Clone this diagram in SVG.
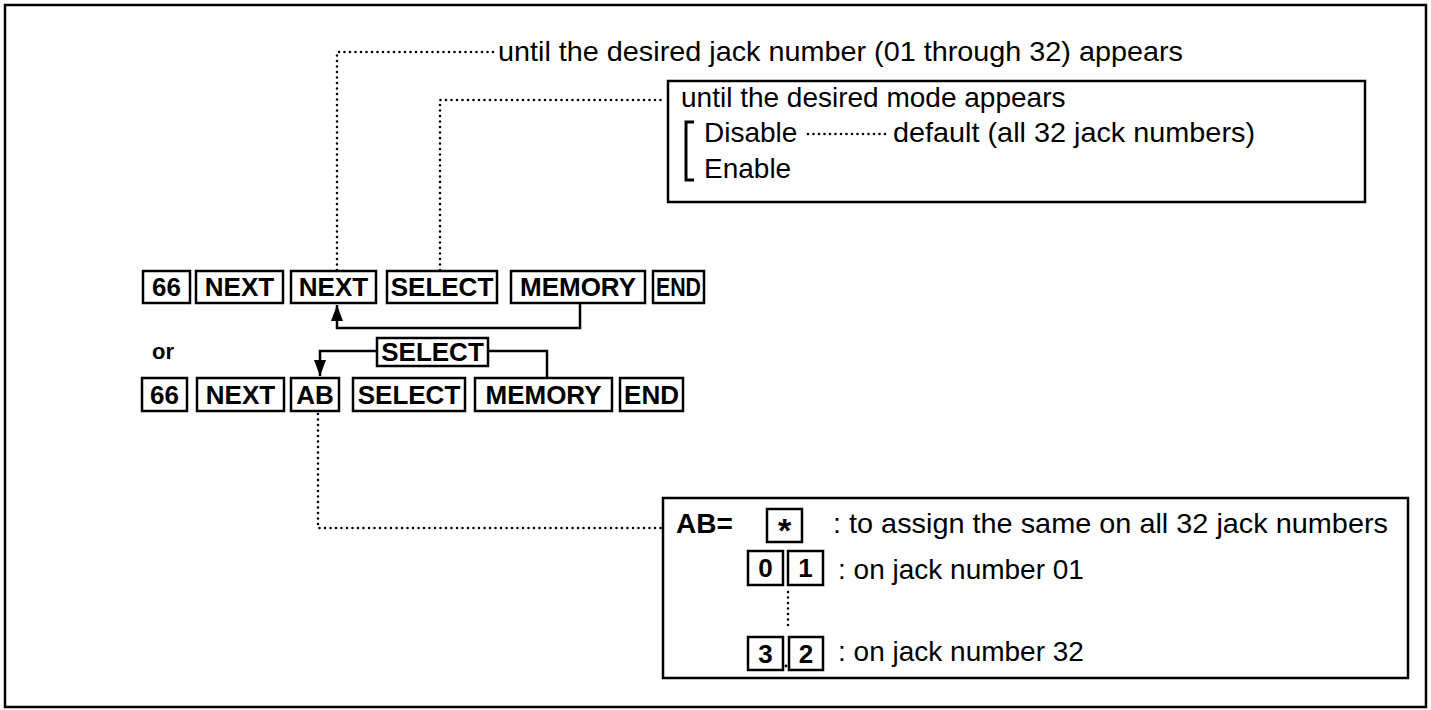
<svg xmlns="http://www.w3.org/2000/svg" width="1431" height="710" viewBox="0 0 1431 710">
<style>
.frame{fill:none;stroke:#000;stroke-width:2.5}
.key{fill:#fff;stroke:#000;stroke-width:2.5}
.kt{font-family:"Liberation Sans",Arial,sans-serif;font-weight:bold;font-size:26px;text-anchor:middle;fill:#000}
.t{font-family:"Liberation Sans",Arial,sans-serif;font-size:28px;fill:#000}
.tb{font-family:"Liberation Sans",Arial,sans-serif;font-weight:bold;font-size:28px;fill:#000}
.dot{fill:none;stroke:#000;stroke-width:2.6;stroke-linecap:round;stroke-dasharray:0 5.5}
.line{fill:none;stroke:#000;stroke-width:2.5}
</style>
<defs>
<marker id="arr" viewBox="0 0 16 12" refX="16" refY="6" markerWidth="16" markerHeight="12" orient="auto" markerUnits="userSpaceOnUse">
<path d="M0,0 L16,6 L0,12 Z" fill="#000"/>
</marker>
</defs>
<rect width="1431" height="710" fill="#fff"/>
<rect id="outer-frame" class="frame" x="5" y="5" width="1421" height="702"/>

<g id="connectors">
<path class="dot" d="M337,270 V52 H494"/>
<path class="dot" d="M440,270 V100 H666"/>
<path class="dot" d="M318,414 V528 H661"/>
<path class="line" d="M580,303 V328 H337 V305" marker-end="url(#arr)"/>
<path class="line" d="M377,351 H320 V376" marker-end="url(#arr)"/>
<path class="line" d="M488,351 H547 V378"/>
</g>

<g id="top-note">
<text class="t" x="498" y="61" textLength="685" lengthAdjust="spacingAndGlyphs">until the desired jack number (01 through 32) appears</text>
</g>

<g id="mode-box">
<rect class="frame" x="668" y="81" width="697" height="121"/>
<text class="t" x="681" y="107">until the desired mode appears</text>
<path d="M694,122 H686 V180 H694" fill="none" stroke="#000" stroke-width="3"/>
<text class="t" x="704" y="142">Disable</text>
<path class="dot" d="M808,134 H888"/>
<text class="t" x="893" y="142" textLength="362" lengthAdjust="spacingAndGlyphs">default (all 32 jack numbers)</text>
<text class="t" x="704" y="178">Enable</text>
</g>

<g id="row1">
<g id="r1-66"><rect class="key" x="143" y="271" width="47" height="32"/><text class="kt" x="166.5" y="296">66</text></g>
<g id="r1-next1"><rect class="key" x="196" y="271" width="87" height="32"/><text class="kt" x="239.5" y="296">NEXT</text></g>
<g id="r1-next2"><rect class="key" x="291" y="271" width="85" height="32"/><text class="kt" x="333.5" y="296">NEXT</text></g>
<g id="r1-select"><rect class="key" x="387" y="271" width="110" height="32"/><text class="kt" x="442" y="296">SELECT</text></g>
<g id="r1-memory"><rect class="key" x="511" y="271" width="134" height="32"/><text class="kt" x="578" y="296">MEMORY</text></g>
<g id="r1-end"><rect class="key" x="653" y="271" width="51" height="32"/><text class="kt" x="678.5" y="296" textLength="45" lengthAdjust="spacingAndGlyphs">END</text></g>
</g>

<g id="or-label"><text class="tb" style="font-size:22px" x="152" y="359">or</text></g>

<g id="loop-select"><rect class="key" x="377" y="338" width="111" height="28"/><text class="kt" x="432.5" y="361">SELECT</text></g>

<g id="row2">
<g id="r2-66"><rect class="key" x="142" y="378" width="45" height="33"/><text class="kt" x="164.5" y="404">66</text></g>
<g id="r2-next"><rect class="key" x="197" y="378" width="87" height="33"/><text class="kt" x="240.5" y="404">NEXT</text></g>
<g id="r2-ab"><rect class="key" x="291" y="378" width="48" height="33"/><text class="kt" x="315" y="404">AB</text></g>
<g id="r2-select"><rect class="key" x="353" y="378" width="112" height="33"/><text class="kt" x="409" y="404">SELECT</text></g>
<g id="r2-memory"><rect class="key" x="475" y="378" width="137" height="33"/><text class="kt" x="543.5" y="404">MEMORY</text></g>
<g id="r2-end"><rect class="key" x="620" y="378" width="63" height="33"/><text class="kt" x="651.5" y="404">END</text></g>
</g>

<g id="ab-box">
<rect class="frame" x="663" y="498" width="745" height="180"/>
<text class="tb" x="676" y="533">AB=</text>
<rect class="key" x="767" y="509" width="35" height="33"/>
<text class="kt" style="font-size:34px" x="784.5" y="542">*</text>
<text class="t" x="833" y="533" textLength="555" lengthAdjust="spacingAndGlyphs">: to assign the same on all 32 jack numbers</text>
<rect class="key" x="748" y="551" width="35" height="34"/><text class="kt" x="765.5" y="577">0</text>
<rect class="key" x="788" y="551" width="35" height="34"/><text class="kt" x="805.5" y="577">1</text>
<text class="t" x="838" y="579">: on jack number 01</text>
<path class="dot" d="M788,592 V628"/>
<rect class="key" x="748" y="637" width="35" height="33"/><text class="kt" x="765.5" y="663">3</text>
<rect class="key" x="789" y="637" width="34" height="33"/><text class="kt" x="806" y="663">2</text>
<circle cx="786" cy="666" r="1.4" fill="#000"/>
<text class="t" x="838" y="661">: on jack number 32</text>
</g>
</svg>
